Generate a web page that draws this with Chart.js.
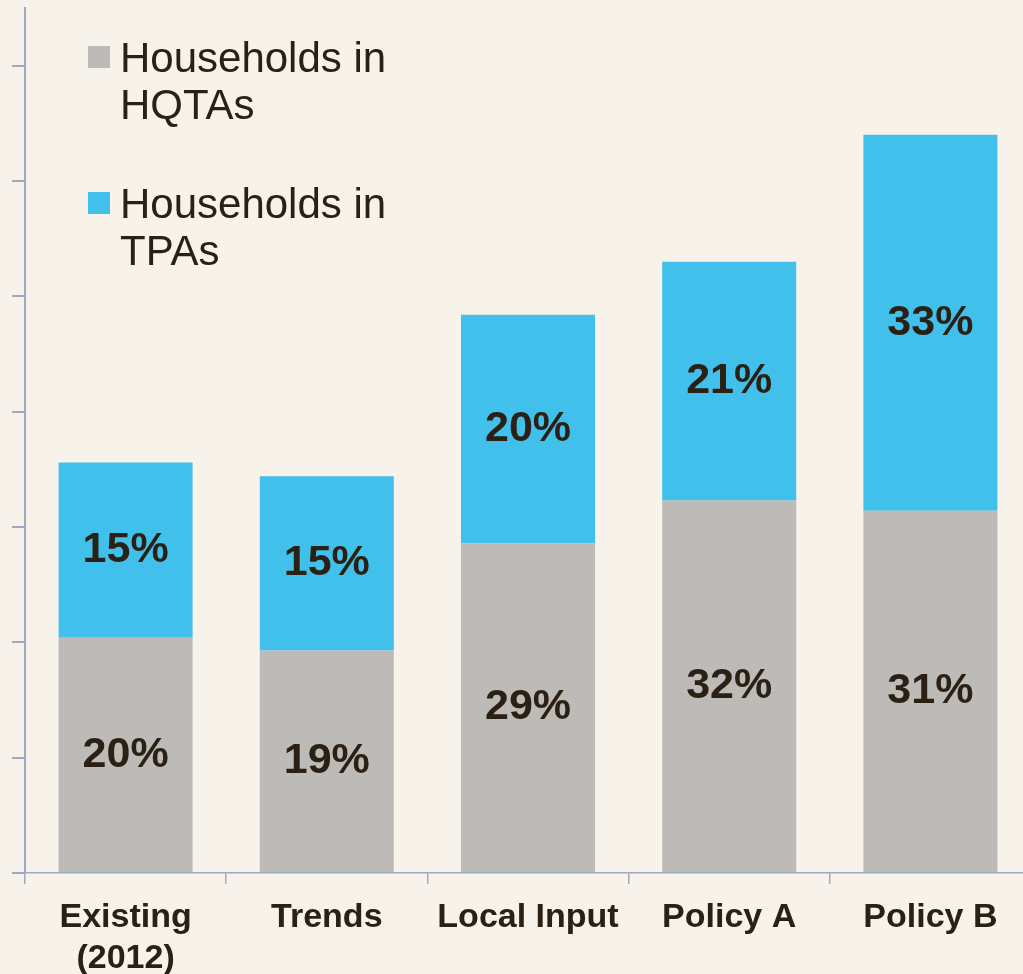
<!DOCTYPE html>
<html>
<head>
<meta charset="utf-8">
<script src="https://cdn.jsdelivr.net/npm/chart.js@4/dist/chart.umd.min.js"></script>
<style>
  html, body { margin: 0; padding: 0; background: #F7F3EA; overflow: hidden; }
  #wrap { position: absolute; left: 0; top: 0; width: 1040px; height: 974px; }
</style>
</head>
<body>
<div id="wrap"><canvas id="c" width="1040" height="974"></canvas></div>
<script>
const categories = [["Existing", "(2012)"], "Trends", "Local Input", "Policy A", "Policy B"];
const hqtaValues = [20.4, 19.3, 28.6, 32.3, 31.4];
const tpaValues = [15.2, 15.1, 19.8, 20.7, 32.6];
const legendLabels = [["Households in", "HQTAs"], ["Households in", "TPAs"]];
const yTicks = [0, 10, 20, 30, 40, 50, 60, 70];

const TEXT = '#2A2013';
const AXIS = '#9FAAC0';
const GRAY = '#BDBBB7';
const BLUE = '#42C0EC';
const FONT = '"Liberation Sans", Arial, sans-serif';

const valueLabels = {
  id: 'valueLabels',
  afterDatasetsDraw(chart) {
    const ctx = chart.ctx;
    ctx.save();
    ctx.font = 'bold 43px ' + FONT;
    ctx.fillStyle = TEXT;
    ctx.textAlign = 'center';
    ctx.textBaseline = 'middle';
    chart.data.datasets.forEach((ds, di) => {
      const meta = chart.getDatasetMeta(di);
      meta.data.forEach((bar, i) => {
        const y = (bar.y + bar.base) / 2;
        ctx.fillText(Math.round(ds.data[i]) + '%', bar.x, y);
      });
    });
    ctx.restore();
  }
};

const customLegend = {
  id: 'customLegend',
  afterDraw(chart) {
    const ctx = chart.ctx;
    ctx.save();
    ctx.font = '42px ' + FONT;
    ctx.textAlign = 'left';
    ctx.textBaseline = 'alphabetic';
    const tops = [46, 192];
    chart.data.datasets.forEach((ds, di) => {
      const top = tops[di];
      ctx.fillStyle = ds.backgroundColor;
      ctx.fillRect(88, top, 22, 22);
      ctx.fillStyle = TEXT;
      legendLabels[di].forEach((line, li) => {
        ctx.fillText(line, 120, top + 26 + li * 47);
      });
    });
    ctx.restore();
  }
};

new Chart(document.getElementById('c'), {
  type: 'bar',
  data: {
    labels: categories,
    datasets: [
      { label: 'Households in HQTAs', data: hqtaValues, backgroundColor: GRAY, borderWidth: 0 },
      { label: 'Households in TPAs', data: tpaValues, backgroundColor: BLUE, borderWidth: 0 }
    ]
  },
  options: {
    responsive: false,
    animation: false,
    devicePixelRatio: 1,
    layout: { padding: { left: 0, top: 8, right: 9, bottom: 0 } },
    plugins: { legend: { display: false }, tooltip: { enabled: false } },
    datasets: { bar: { categoryPercentage: 1.0, barPercentage: 0.666 } },
    scales: {
      x: {
        stacked: true,
        offset: true,
        afterFit(s) { s.height = 101; },
        grid: { display: true, drawOnChartArea: false, offset: true, color: AXIS, lineWidth: 1.5, tickLength: 11 },
        border: { display: true, color: AXIS, width: 1.5 },
        ticks: { color: TEXT, font: { family: FONT, size: 34, weight: 'bold', lineHeight: 1.18 }, padding: 14, maxRotation: 0, autoSkip: false }
      },
      y: {
        stacked: true,
        min: 0,
        max: 75,
        afterBuildTicks(s) { s.ticks = yTicks.map(v => ({ value: v })); },
        afterFit(s) { s.width = 25; },
        grid: { display: true, drawOnChartArea: false, color: AXIS, lineWidth: 2, tickLength: 13 },
        border: { display: true, color: AXIS, width: 2 },
        ticks: { display: false }
      }
    }
  },
  plugins: [valueLabels, customLegend]
});
</script>
</body>
</html>
